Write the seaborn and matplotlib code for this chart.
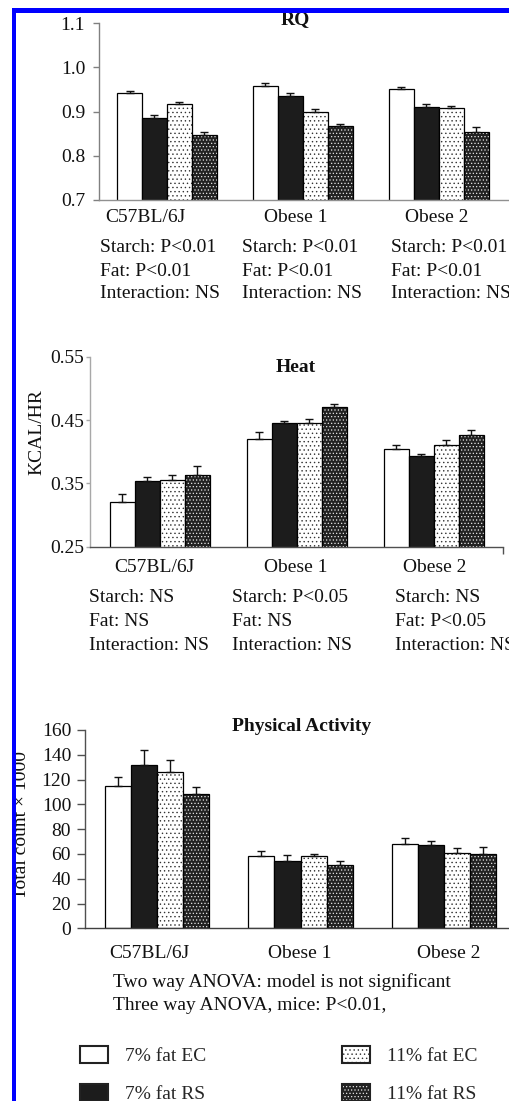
import numpy as np
import pandas as pd
import matplotlib
matplotlib.use("Agg")
import matplotlib.pyplot as plt
import seaborn as sns
from matplotlib.patches import Rectangle, Patch
from matplotlib.ticker import FormatStrFormatter

# ---------------- data ----------------
strains = ["C57BL/6J", "Obese 1", "Obese 2"]
diets = ["7% fat EC", "7% fat RS", "11% fat EC", "11% fat RS"]

rq_mean = [[0.941, 0.957, 0.951],
           [0.885, 0.936, 0.911],
           [0.917, 0.899, 0.907],
           [0.848, 0.867, 0.854]]
rq_err = [[0.006, 0.008, 0.004],
          [0.006, 0.005, 0.006],
          [0.005, 0.007, 0.005],
          [0.005, 0.004, 0.012]]

heat_mean = [[0.321, 0.420, 0.404],
             [0.353, 0.445, 0.394],
             [0.356, 0.446, 0.411],
             [0.363, 0.471, 0.427]]
heat_err = [[0.013, 0.011, 0.007],
            [0.007, 0.004, 0.003],
            [0.008, 0.005, 0.007],
            [0.015, 0.005, 0.008]]

pa_mean = [[115, 58, 68],
           [132, 54, 67],
           [126, 58, 61],
           [108, 51, 60]]
pa_err = [[7, 4, 5],
          [12, 5, 3.5],
          [9.5, 2, 4],
          [6, 3.5, 6]]

rq_ticks = [0.7, 0.8, 0.9, 1.0, 1.1]
heat_ticks = [0.25, 0.35, 0.45, 0.55]
pa_ticks = [0, 20, 40, 60, 80, 100, 120, 140, 160]

rq_notes = [["Starch: P<0.01", "Fat: P<0.01", "Interaction: NS"],
            ["Starch: P<0.01", "Fat: P<0.01", "Interaction: NS"],
            ["Starch: P<0.01", "Fat: P<0.01", "Interaction: NS"]]
heat_notes = [["Starch: NS", "Fat: NS", "Interaction: NS"],
              ["Starch: P<0.05", "Fat: NS", "Interaction: NS"],
              ["Starch: NS", "Fat: P<0.05", "Interaction: NS"]]
pa_notes = ["Two way ANOVA: model is not significant",
            "Three way ANOVA, mice: P<0.01,"]

# ---------------- style ----------------
sns.set_style("ticks")
plt.rcParams["font.family"] = ["Liberation Serif", "DejaVu Serif"]
plt.rcParams["hatch.linewidth"] = 0.5
FS = 14
LIGHT_HATCH = "...."
DARK_HATCH = "....."
LIGHT_DOT = "#333333"
DARK_DOT = "#e6e6e6"

W, H = 509, 1101
fig = plt.figure(figsize=(W / 100, H / 100), dpi=100)


def ax_at(left, top, right, bottom):
    return fig.add_axes([left / W, 1 - bottom / H, (right - left) / W, (bottom - top) / H])


def long_df(mean, err):
    rows = []
    for i, d in enumerate(diets):
        for j, s in enumerate(strains):
            rows.append({"strain": s, "diet": d, "value": mean[i][j], "err": err[i][j]})
    return pd.DataFrame(rows)


def panel(ax, mean, err, width, xlim, ylim, ticks, fmt, left_col, bottom_col, tick_len, pad):
    df = long_df(mean, err)
    sns.barplot(data=df, x="strain", y="value", hue="diet", order=strains,
                hue_order=diets, palette=["white", "#1c1c1c", "white", "#222222"],
                saturation=1, width=width, errorbar=None, legend=False,
                edgecolor="black", linewidth=0.9, ax=ax)
    bar_conts = list(ax.containers)
    for k, cont in enumerate(bar_conts):
        xs, hs = [], []
        for p in cont.patches:
            xs.append(p.get_x() + p.get_width() / 2)
            hs.append(p.get_height())
            if k in (2, 3):
                p.set_hatch(LIGHT_HATCH if k == 2 else DARK_HATCH)
                p.set_edgecolor(LIGHT_DOT if k == 2 else DARK_DOT)
                p.set_linewidth(0)
                ax.add_patch(Rectangle((p.get_x(), p.get_y()), p.get_width(), p.get_height(),
                                       facecolor="none", edgecolor="black", linewidth=0.9,
                                       zorder=p.get_zorder() + 0.1))
        e = df[df["diet"] == diets[k]].set_index("strain").loc[strains, "err"].values
        ax.errorbar(xs, hs, yerr=[np.zeros(len(e)), e], fmt="none", ecolor="#111111",
                    elinewidth=1.0, capsize=3.2, capthick=1.0, zorder=5)
    ax.set_xlim(*xlim)
    ax.set_ylim(*ylim)
    ax.set_yticks(ticks)
    ax.yaxis.set_major_formatter(FormatStrFormatter(fmt))
    ax.set_xticks([])
    ax.set_xlabel("")
    ax.set_ylabel("")
    for s in ["top", "right"]:
        ax.spines[s].set_visible(False)
    ax.spines["left"].set_color(left_col)
    ax.spines["bottom"].set_color(bottom_col)
    ax.spines["left"].set_linewidth(1.0)
    ax.spines["bottom"].set_linewidth(1.0)
    ax.tick_params(axis="y", length=tick_len, width=1.0, color=left_col,
                   labelsize=FS, pad=pad, labelcolor="#111111")
    ax.set_facecolor("none")
    ax.patch.set_alpha(0)


# RQ panel
ax1 = ax_at(99, 23, 509, 200)
panel(ax1, rq_mean, rq_err, 0.735, (-0.5, 2.515), (0.7, 1.1), rq_ticks, "%.1f",
      "#808080", "#909090", 4, 6)
# Heat panel
ax2 = ax_at(90, 356.7, 503, 546.7)
panel(ax2, heat_mean, heat_err, 0.73, (-0.511, 2.504), (0.25, 0.55), heat_ticks, "%.2f",
      "#a8a8a8", "#505050", 3, 1)
ax2.set_xticks([2.504])
ax2.set_xticklabels([""])
ax2.tick_params(axis="x", length=5, width=1.0, color="#505050")
# PA panel
ax3 = ax_at(85, 730, 509, 928.3)
panel(ax3, pa_mean, pa_err, 0.73, (-0.502, 2.453), (0, 160), pa_ticks, "%d",
      "#505050", "#404040", 6, 4)


def ftext(x, y, s, **kw):
    kw.setdefault("fontsize", FS)
    kw.setdefault("color", "#111111")
    fig.text(x / W, 1 - y / H, s, **kw)


# titles
ftext(295, 24, "RQ", ha="center", va="baseline", fontweight="bold")
ftext(296, 372, "Heat", ha="center", va="baseline", fontweight="bold")
ftext(302, 731, "Physical Activity", ha="center", va="baseline", fontweight="bold")

# y labels
ftext(37, 432, "KCAL/HR", ha="center", va="center", rotation=90)
ftext(22, 825, "Total count \u00d7 1000", ha="center", va="center", rotation=90)

# category labels
for s, x in zip(strains, [145, 296, 437]):
    ftext(x, 217, s, ha="center", va="center")
for s, x in zip(strains, [154, 296, 435]):
    ftext(x, 568, s, ha="center", va="center")
for s, x in zip(strains, [149, 300, 449]):
    ftext(x, 953, s, ha="center", va="center")

# notes
for col, x in zip(rq_notes, [100, 242, 391]):
    for line, y in zip(col, [247, 271, 294]):
        ftext(x, y, line, ha="left", va="center")
for col, x in zip(heat_notes, [89, 232, 395]):
    for line, y in zip(col, [598, 621, 645]):
        ftext(x, y, line, ha="left", va="center")
for line, y in zip(pa_notes, [982, 1005]):
    ftext(113, y, line, ha="left", va="center")

# legend
h_ec7 = Patch(facecolor="white", edgecolor="#222222", linewidth=1.5)
h_rs7 = Patch(facecolor="#1c1c1c", edgecolor="#222222", linewidth=1.5)
h_ec11 = (Patch(facecolor="white", edgecolor=LIGHT_DOT, hatch=LIGHT_HATCH, linewidth=0),
          Patch(facecolor="none", edgecolor="#222222", linewidth=1.5))
h_rs11 = (Patch(facecolor="#222222", edgecolor=DARK_DOT, hatch=DARK_HATCH, linewidth=0),
          Patch(facecolor="none", edgecolor="#222222", linewidth=1.5))
fig.legend([h_ec7, h_rs7, h_ec11, h_rs11], diets, ncol=2,
           loc="upper left", bbox_to_anchor=(80 / W, 1 - 1046 / H),
           frameon=False, fontsize=FS, handlelength=1.45, handleheight=1.0,
           handletextpad=0.85, columnspacing=7.0, labelspacing=0.95, borderpad=0,
           borderaxespad=0)

# blue frame
fig.add_artist(Rectangle((12 / W, 0), 4 / W, 1 - 8 / H, transform=fig.transFigure,
                         facecolor="#0000ff", edgecolor="none", zorder=20))
fig.add_artist(Rectangle((12 / W, 1 - 13 / H), 1, 5 / H, transform=fig.transFigure,
                         facecolor="#0000ff", edgecolor="none", zorder=20))

fig.savefig("out.png", dpi=100)
